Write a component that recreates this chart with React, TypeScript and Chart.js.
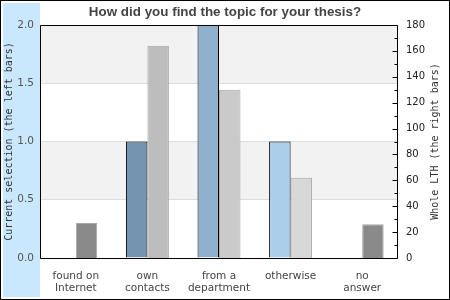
import React, { useEffect, useRef } from "react";
import { Chart, registerables } from "chart.js";

Chart.register(...registerables);

const chartTitle = "How did you find the topic for your thesis?";
const leftAxisTitle = "Current selection (the left bars)";
const rightAxisTitle = "Whole LTH (the right bars)";

const categories: string[][] = [
  ["found on", "Internet"],
  ["own", "contacts"],
  ["from a", "department"],
  ["otherwise"],
  ["no", "answer"],
];
const currentSelection = [0, 1, 2, 1, 0];
const wholeLTH = [27, 164, 130, 62, 26];
const currentColors = ["#7494b0", "#7494b0", "#8fb1cd", "#abcfea", "#7494b0"];
const lthColors = ["#8a8a8a", "#bdbdbd", "#cacaca", "#d8d8d8", "#8a8a8a"];
const leftTicks = [0, 0.5, 1.0, 1.5, 2.0];
const rightMin = 0;
const rightMax = 180;
const rightMajorStep = 20;
const rightMinorStep = 10;

const decorPlugin = {
  id: "decor",
  beforeDraw(chart: any) {
    const { ctx, chartArea: a, width, height } = chart;
    ctx.save();
    ctx.fillStyle = "#ffffff";
    ctx.fillRect(0, 0, width, height);
    ctx.fillStyle = "#c9e7fd";
    ctx.fillRect(3, 3, a.left - 3, height - 6);
    const y = chart.scales.y;
    ctx.fillStyle = "#f2f2f2";
    for (let i = 0; i < leftTicks.length - 1; i++) {
      if (i % 2 === 1) {
        const p0 = y.getPixelForValue(leftTicks[i]);
        const p1 = y.getPixelForValue(leftTicks[i + 1]);
        ctx.fillRect(a.left, p1, a.right - a.left, p0 - p1);
      }
    }
    ctx.strokeStyle = "#000";
    ctx.lineWidth = 1;
    ctx.strokeRect(0.5, 0.5, width - 1, height - 1);
    ctx.restore();
  },
  afterDatasetsDraw(chart: any) {
    const { ctx, chartArea: a } = chart;
    ctx.save();
    ctx.strokeStyle = "#000";
    ctx.lineWidth = 1;
    const l = Math.round(a.left) + 0.5;
    const r = Math.round(a.right) - 0.5;
    const t = Math.round(a.top) + 0.5;
    const b = Math.round(a.bottom) + 0.5;
    ctx.beginPath();
    ctx.moveTo(l, t);
    ctx.lineTo(r, t);
    ctx.lineTo(r, b);
    ctx.lineTo(l, b);
    ctx.closePath();
    ctx.stroke();
    const y1 = chart.scales.y1;
    ctx.beginPath();
    for (let v = rightMin; v <= rightMax; v += rightMinorStep) {
      const py = Math.round(y1.getPixelForValue(v)) + 0.5;
      const len = v % rightMajorStep === 0 ? 5 : 3;
      ctx.moveTo(r - len, py);
      ctx.lineTo(r, py);
    }
    ctx.stroke();
    ctx.restore();
  },
  afterDraw(chart: any) {
    const { ctx, chartArea: a } = chart;
    const cy = (a.top + a.bottom) / 2;
    ctx.save();
    ctx.font = "10px 'DejaVu Sans Mono'";
    ctx.fillStyle = "#333";
    ctx.textAlign = "center";
    ctx.textBaseline = "middle";
    ctx.save();
    ctx.translate(9.5, cy);
    ctx.rotate(-Math.PI / 2);
    ctx.fillText(leftAxisTitle, 0, 0);
    ctx.restore();
    ctx.save();
    ctx.translate(435.5, cy);
    ctx.rotate(-Math.PI / 2);
    ctx.fillText(rightAxisTitle, 0, 0);
    ctx.restore();
    ctx.restore();
  },
};

export default function App() {
  const canvasRef = useRef<HTMLCanvasElement | null>(null);

  useEffect(() => {
    document.body.style.margin = "0";
    const canvas = canvasRef.current;
    if (!canvas) return;
    const chart = new Chart(canvas, {
      type: "bar",
      data: {
        labels: categories,
        datasets: [
          {
            label: "Current selection",
            data: currentSelection,
            yAxisID: "y",
            backgroundColor: currentColors,
            borderColor: "#000",
            borderWidth: 1,
          },
          {
            label: "Whole LTH",
            data: wholeLTH,
            yAxisID: "y1",
            backgroundColor: lthColors,
            borderColor: "#a8a8a8",
            borderWidth: 1,
          },
        ],
      },
      options: {
        responsive: false,
        animation: false,
        events: [],
        layout: { padding: 0 },
        datasets: {
          bar: { categoryPercentage: 0.6, barPercentage: 1.0 },
        },
        plugins: {
          legend: { display: false },
          tooltip: { enabled: false },
          title: {
            display: true,
            text: chartTitle,
            color: "#444",
            font: { family: "'Liberation Sans', Arial, sans-serif", weight: "bold", size: 13.4, lineHeight: 1.2 },
            padding: { top: 4, bottom: 4.92 },
          },
        },
        scales: {
          x: {
            grid: { display: false },
            border: { display: false },
            ticks: {
              color: "#444",
              font: { family: "'DejaVu Sans'", size: 10.5, lineHeight: 12 / 10.5 },
              padding: 4,
              maxRotation: 0,
              autoSkip: false,
            },
            afterFit: (s: any) => {
              s.height = 42;
            },
          },
          y: {
            position: "left",
            min: leftTicks[0],
            max: leftTicks[leftTicks.length - 1],
            grid: { color: "#dddddd", drawTicks: false },
            border: { display: false },
            ticks: {
              stepSize: 0.5,
              color: "#555",
              font: { family: "'DejaVu Sans'", size: 10.5 },
              padding: 6,
              callback: (v: any) => Number(v).toFixed(1),
            },
            afterFit: (s: any) => {
              s.width = 40;
            },
          },
          y1: {
            position: "right",
            min: rightMin,
            max: rightMax,
            grid: { display: false, drawTicks: false },
            border: { display: false },
            ticks: {
              stepSize: rightMajorStep,
              color: "#222",
              font: { family: "'DejaVu Sans'", size: 10 },
              padding: 8,
            },
            afterFit: (s: any) => {
              s.width = 52;
            },
          },
        },
      },
      plugins: [decorPlugin],
    } as any);
    return () => chart.destroy();
  }, []);

  return (
    <div style={{ width: 450, height: 300 }}>
      <canvas ref={canvasRef} width={450} height={300} style={{ display: "block" }} />
    </div>
  );
}
